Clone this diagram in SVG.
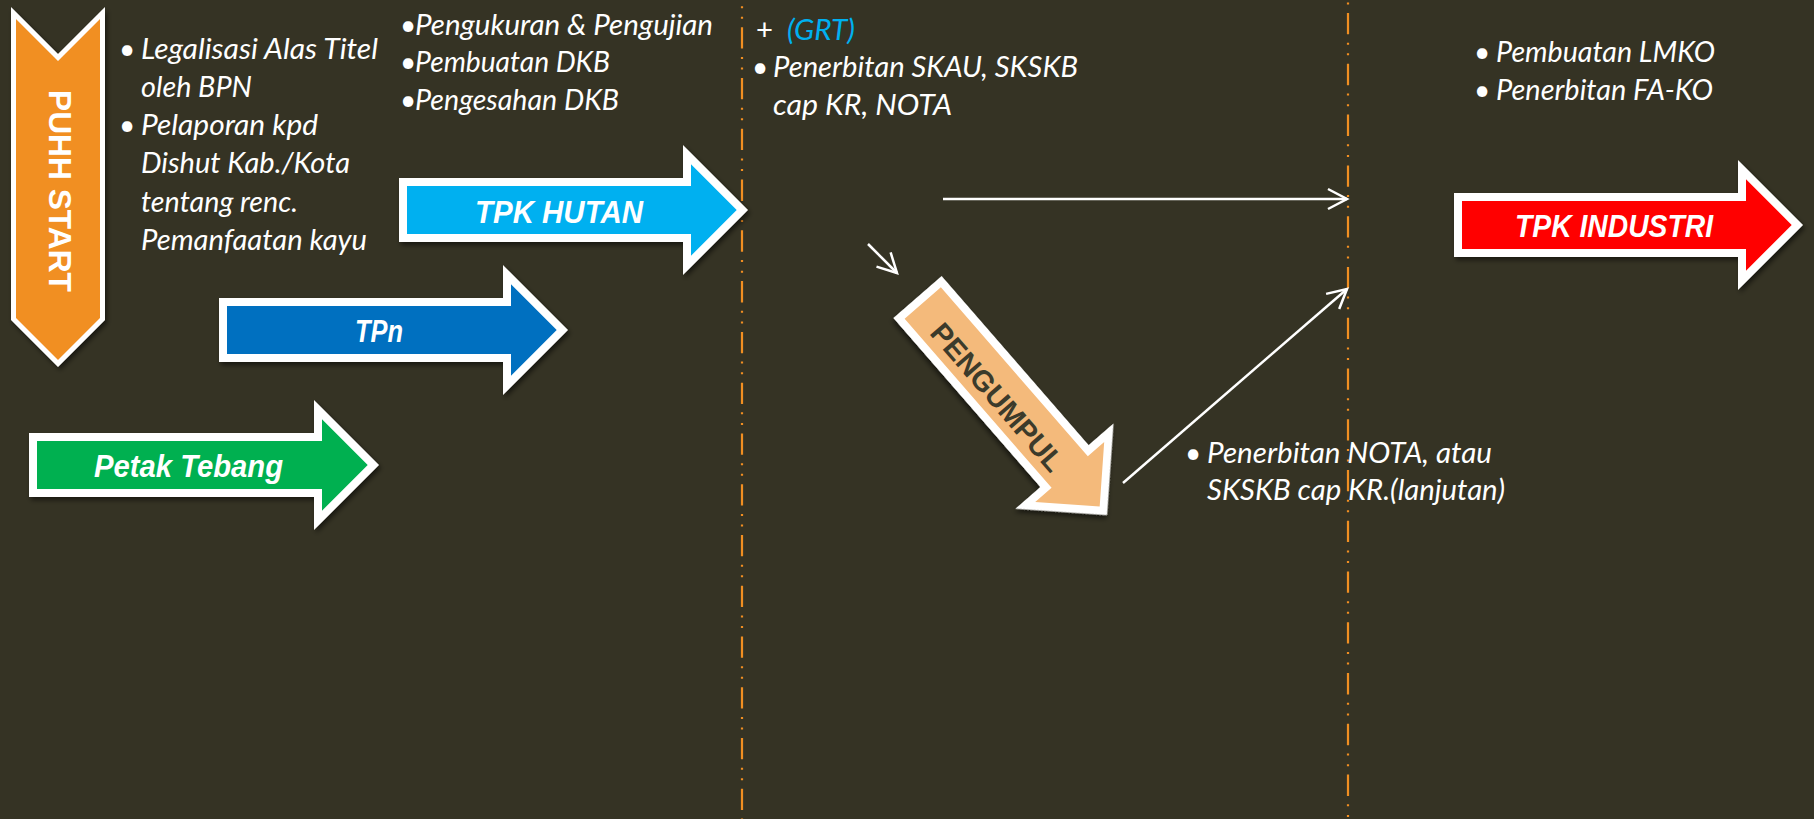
<svg xmlns="http://www.w3.org/2000/svg" width="1814" height="819" viewBox="0 0 1814 819">
<defs>
<style>
.bg{fill:#353324}
.body{font-family:Lato,"Open Sans","Liberation Sans",sans-serif;font-style:italic;font-size:28px;fill:#ffffff}
.bul{font-family:Lato,"Liberation Sans",sans-serif;font-size:28px;fill:#ffffff}
.lbl{font-family:"Liberation Sans",Arial,sans-serif;font-weight:bold;font-style:italic;font-size:31px;fill:#ffffff}
.outer{fill:#ffffff}
.sep{fill:none;stroke:#F18F22;stroke-width:2.2;stroke-dasharray:21.3 8.4 2 8.6 2 8.47}
.conn{fill:none;stroke:#ffffff;stroke-width:2.5}
</style>
<filter id="sh" x="-10%" y="-10%" width="130%" height="130%">
<feDropShadow dx="2" dy="3" stdDeviation="2.5" flood-color="#000000" flood-opacity="0.55"/>
</filter>
<marker id="ah" markerUnits="userSpaceOnUse" markerWidth="26" markerHeight="26" viewBox="0 0 26 26" refX="22" refY="13" orient="auto" overflow="visible">
<path d="M3,3 L22,13 L3,23" fill="none" stroke="#ffffff" stroke-width="2.5"/>
</marker>
</defs>
<rect class="bg" x="0" y="0" width="1814" height="819"/>

<g id="separators">
<line class="sep" x1="742" y1="0" x2="742" y2="819" stroke-dashoffset="23.5"/>
<line class="sep" x1="1348" y1="0" x2="1348" y2="819" stroke-dashoffset="37.7"/>
</g>

<g id="puhh-start">
<polygon points="13.5,13 58,57.5 102.5,13 102.5,319 58,363.5 13.5,319" fill="#F18F22" stroke="#ffffff" stroke-width="5" filter="url(#sh)"/>
<text transform="translate(60,191) rotate(90)" x="0" y="11.5" text-anchor="middle" font-family="'Liberation Sans',Arial,sans-serif" font-weight="bold" font-size="31.5" fill="#ffffff" textLength="202" lengthAdjust="spacingAndGlyphs">PUHH START</text>
</g>

<g id="notes-start">
<text class="bul" x="127" y="59" text-anchor="middle">•</text>
<text class="body" x="141" y="59" textLength="237" lengthAdjust="spacingAndGlyphs">Legalisasi Alas Titel</text>
<text class="body" x="141" y="97" textLength="111" lengthAdjust="spacingAndGlyphs">oleh BPN</text>
<text class="bul" x="127" y="135" text-anchor="middle">•</text>
<text class="body" x="141" y="135" textLength="177" lengthAdjust="spacingAndGlyphs">Pelaporan kpd</text>
<text class="body" x="141" y="173" textLength="209" lengthAdjust="spacingAndGlyphs">Dishut Kab./Kota</text>
<text class="body" x="141" y="212" textLength="157" lengthAdjust="spacingAndGlyphs">tentang renc.</text>
<text class="body" x="141" y="250" textLength="226" lengthAdjust="spacingAndGlyphs">Pemanfaatan kayu</text>
</g>

<g id="notes-tpk-hutan">
<text class="bul" x="408" y="35" text-anchor="middle">•</text>
<text class="body" x="415" y="35" textLength="298" lengthAdjust="spacingAndGlyphs">Pengukuran &amp; Pengujian</text>
<text class="bul" x="408" y="72" text-anchor="middle">•</text>
<text class="body" x="415" y="72" textLength="195" lengthAdjust="spacingAndGlyphs">Pembuatan DKB</text>
<text class="bul" x="408" y="110" text-anchor="middle">•</text>
<text class="body" x="415" y="110" textLength="204" lengthAdjust="spacingAndGlyphs">Pengesahan DKB</text>
</g>

<g id="notes-middle">
<text class="bul" x="756" y="40" textLength="17" lengthAdjust="spacingAndGlyphs">+</text>
<text class="body" x="787" y="40" fill="#00B0F0" style="fill:#00B0F0" textLength="68" lengthAdjust="spacingAndGlyphs">(GRT)</text>
<text class="bul" x="760" y="77" text-anchor="middle">•</text>
<text class="body" x="773" y="77" textLength="305" lengthAdjust="spacingAndGlyphs">Penerbitan SKAU, SKSKB</text>
<text class="body" x="773" y="115" textLength="179" lengthAdjust="spacingAndGlyphs">cap KR, NOTA</text>
</g>

<g id="notes-industri">
<text class="bul" x="1482" y="62" text-anchor="middle">•</text>
<text class="body" x="1496" y="62" textLength="219" lengthAdjust="spacingAndGlyphs">Pembuatan LMKO</text>
<text class="bul" x="1482" y="100" text-anchor="middle">•</text>
<text class="body" x="1496" y="100" textLength="217" lengthAdjust="spacingAndGlyphs">Penerbitan FA-KO</text>
</g>

<g id="notes-pengumpul">
<text class="bul" x="1193" y="463" text-anchor="middle">•</text>
<text class="body" x="1207" y="463" textLength="285" lengthAdjust="spacingAndGlyphs">Penerbitan NOTA, atau</text>
<text class="body" x="1207" y="500" textLength="298" lengthAdjust="spacingAndGlyphs">SKSKB cap KR.(lanjutan)</text>
</g>

<g id="tpk-hutan">
<polygon class="outer" filter="url(#sh)" points="399,178 683,178 683,145 748,210 683,275 683,242 399,242"/>
<polygon fill="#00B0F0" points="407,186 691,186 691,164.3 736.7,210 691,255.7 691,234 407,234"/>
<text class="lbl" x="475" y="223" textLength="168" lengthAdjust="spacingAndGlyphs">TPK HUTAN</text>
</g>

<g id="tpn">
<polygon class="outer" filter="url(#sh)" points="219,298 503,298 503,265 568,330 503,395 503,362 219,362"/>
<polygon fill="#0070C0" points="227,306 511,306 511,284.3 556.7,330 511,375.7 511,354 227,354"/>
<text class="lbl" x="355" y="342" textLength="48" lengthAdjust="spacingAndGlyphs">TPn</text>
</g>

<g id="petak-tebang">
<polygon class="outer" filter="url(#sh)" points="29,433 314,433 314,400 379,465 314,530 314,497 29,497"/>
<polygon fill="#00B050" points="37,441 322,441 322,419.3 367.7,465 322,510.7 322,489 37,489"/>
<text class="lbl" x="94" y="477" textLength="189" lengthAdjust="spacingAndGlyphs">Petak Tebang</text>
</g>

<g id="tpk-industri">
<polygon class="outer" filter="url(#sh)" points="1454,193 1738,193 1738,160 1803,225 1738,290 1738,257 1454,257"/>
<polygon fill="#FF0000" points="1462,201 1746,201 1746,179.3 1791.7,225 1746,270.7 1746,249 1462,249"/>
<text class="lbl" x="1515" y="237" textLength="198" lengthAdjust="spacingAndGlyphs">TPK INDUSTRI</text>
</g>

<g id="pengumpul" transform="translate(917.5 297) rotate(49)">
<polygon class="outer" filter="url(#sh)" points="0,-32 224,-32 224,-65 289,0 224,65 224,32 0,32"/>
<polygon fill="#F4BA7B" points="8,-24 232,-24 232,-45.7 277.7,0 232,45.7 232,24 8,24"/>
<text x="128" y="15.5" text-anchor="middle" font-family="'Liberation Sans',Arial,sans-serif" font-weight="bold" font-size="29" fill="#3C3B2B" textLength="186" lengthAdjust="spacingAndGlyphs">PENGUMPUL</text>
</g>

<g id="connectors">
<line class="conn" x1="943" y1="199" x2="1347" y2="199" marker-end="url(#ah)"/>
<line class="conn" x1="868" y1="244" x2="897" y2="273" marker-end="url(#ah)"/>
<line class="conn" x1="1123" y1="483" x2="1347" y2="289" marker-end="url(#ah)"/>
</g>
</svg>
